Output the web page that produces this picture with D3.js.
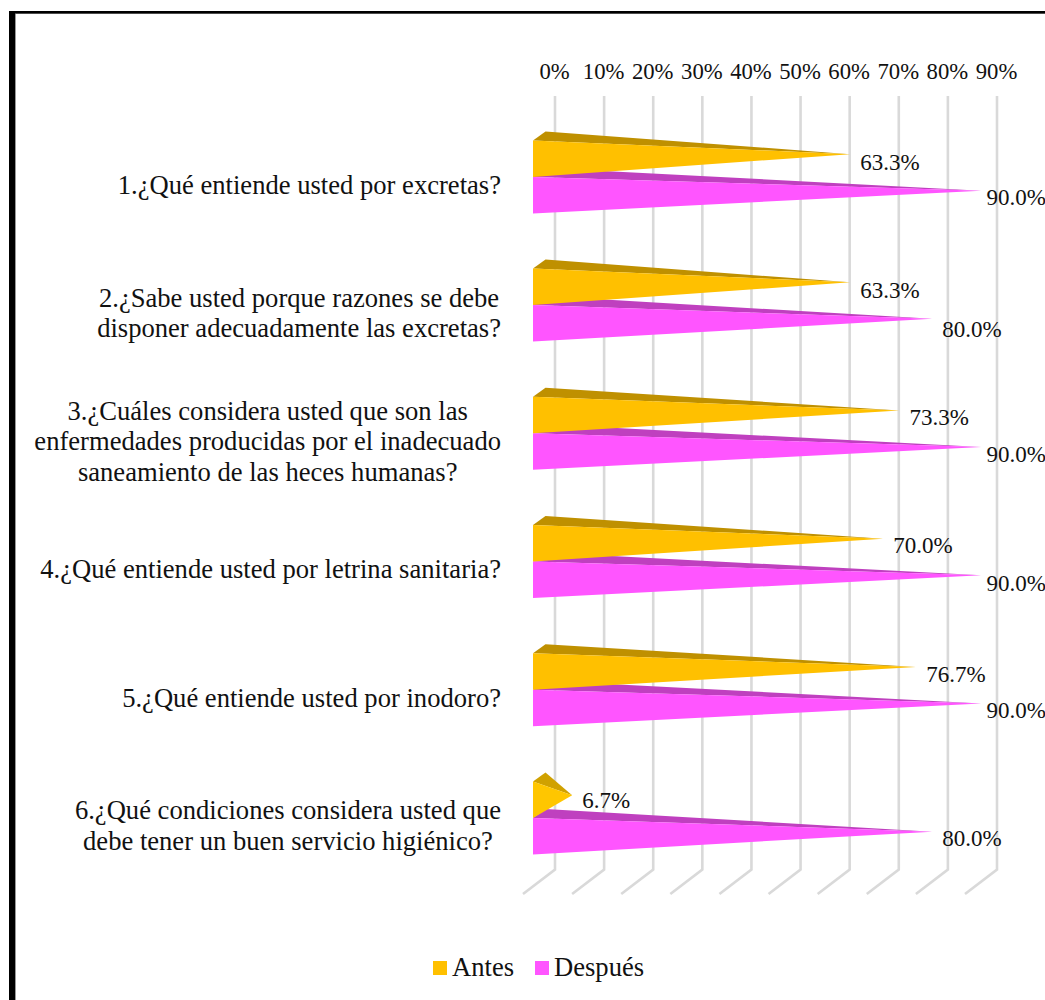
<!DOCTYPE html>
<html lang="es">
<head>
<meta charset="utf-8">
<script src="https://cdn.jsdelivr.net/npm/d3@7"></script>
<style>
  html, body { margin: 0; padding: 0; background: #fff; overflow: hidden; }
  svg { display: block; }
  text { font-family: "Liberation Serif", "Times New Roman", serif; fill: #111; }
</style>
</head>
<body>
<svg id="chart" width="1045" height="1000"></svg>
<script>
// Question labels, one entry per visual line
const questions = [
  ["1.¿Qué entiende usted por excretas?"],
  ["2.¿Sabe usted porque razones se debe", "disponer adecuadamente las excretas?"],
  ["3.¿Cuáles considera usted que son las", "enfermedades producidas por el inadecuado", "saneamiento de las heces humanas?"],
  ["4.¿Qué entiende usted por letrina sanitaria?"],
  ["5.¿Qué entiende usted por inodoro?"],
  ["6.¿Qué condiciones considera usted que", "debe tener un buen servicio higiénico?"]
];
const seriesNames = ["Antes", "Después"];
const antes = [63.3, 63.3, 73.3, 70.0, 76.7, 6.7];
const despues = [90.0, 80.0, 90.0, 90.0, 90.0, 80.0];
const axisTicks = [0, 10, 20, 30, 40, 50, 60, 70, 80, 90];

const frontColors = { "Antes": "#FFC000", "Después": "#FF55FF" };
const topColors = { "Antes": "#BF9000", "Después": "#BF40BF" };

const svg = d3.select("#chart");
const W = 1045, H = 1000;

// Frame: heavy left rule and thinner top rule, each with a soft inner edge
svg.append("rect").attr("x", 15).attr("y", 13).attr("width", 1).attr("height", H - 13).attr("fill", "#999");
svg.append("rect").attr("x", 15).attr("y", 13).attr("width", W - 15).attr("height", 1).attr("fill", "#999");
svg.append("rect").attr("x", 9).attr("y", 11).attr("width", 6).attr("height", H - 11).attr("fill", "#000");
svg.append("rect").attr("x", 9).attr("y", 11).attr("width", W - 9).attr("height", 2.5).attr("fill", "#000");

// Back wall value scale
const x = d3.scaleLinear().domain([0, 90]).range([555, 997]);

// Category bands live on the plane of the bars' front faces
const yBand = d3.scaleBand()
  .domain(d3.range(questions.length))
  .range([112.8, 882])
  .paddingInner(0)
  .paddingOuter(0);
const groupGap = 27.6;
const barH = 36.5;

// 3-D projection of the chart box
const wallTop = 96, wallBottom = 869.5;
const floorDx = -32, floorDy = 24.5;
const barDepthDx = 12.5, barDepthDy = -9;
const frontShift = -22;       // bar front plane relative to the back wall
const apexShift = frontShift + barDepthDx / 2;

// Gridlines on the back wall with their run across the floor
const grid = svg.append("g")
  .attr("fill", "none").attr("stroke", "#D9D9D9").attr("stroke-width", 2.6);
const gridPath = d3.line();
axisTicks.forEach(t => {
  grid.append("path").attr("d", gridPath([
    [x(t), wallTop], [x(t), wallBottom], [x(t) + floorDx, wallBottom + floorDy]
  ]));
});

// Value axis across the top
const axis = d3.axisTop(x).tickValues(axisTicks).tickFormat(d => d + "%").tickSize(0).tickPadding(0);
const axisG = svg.append("g").attr("transform", "translate(-1,79)").call(axis);
axisG.select(".domain").remove();
axisG.selectAll("text").style("font-size", "22.7px").style("font-family", '"Liberation Serif", serif').attr("fill", "#111");

// One pyramid: a front triangle and a top triangle meeting at the apex.
// Very short pyramids catch more light on both faces.
function drawPyramid(g, name, groupIndex, seriesIndex, value) {
  const y0 = yBand(groupIndex) + groupGap + seriesIndex * barH;
  const xf = x(0) + frontShift;
  const apex = [x(value) + apexShift, y0 + barH / 2 + barDepthDy / 2];
  const closed = d3.line().curve(d3.curveLinearClosed);
  const lit = value < 20 ? 0.1 : 0;
  g.append("path")
    .attr("d", closed([[xf, y0], [xf + barDepthDx, y0 + barDepthDy], apex]))
    .attr("fill", d3.interpolateRgb(topColors[name], "#FFD000")(lit * 2.6));
  g.append("path")
    .attr("d", closed([[xf, y0], apex, [xf, y0 + barH]]))
    .attr("fill", d3.interpolateRgb(frontColors[name], "#FFD000")(lit * 4));
}

// Después sits behind Antes, and lower groups are drawn first
const bars = svg.append("g");
d3.range(questions.length).reverse().forEach(i => {
  drawPyramid(bars, "Después", i, 1, despues[i]);
  drawPyramid(bars, "Antes", i, 0, antes[i]);
});

// Value labels start just past each tip, held back near the right edge
const labelMaxX = 986.5;
const labelLift = new Map([["1-1", 3], ["5-0", -2], ["0-0", 1], ["1-0", 1], ["3-1", 1]]);
const labels = svg.append("g").attr("text-anchor", "start").style("font-size", "23px");
const fmt = d3.format(".1f");
d3.range(questions.length).forEach(i => {
  [antes[i], despues[i]].forEach((v, s) => {
    const y0 = yBand(i) + groupGap + s * barH;
    labels.append("text")
      .attr("x", Math.min(x(v) + apexShift + 10.2, labelMaxX))
      .attr("y", y0 + 28.4 + (labelLift.get(i + "-" + s) || 0))
      .text(fmt(v) + "%");
  });
});

// Question labels: centred lines in a block whose right edge is fixed
const cats = svg.append("g").style("font-size", "26.6px").attr("text-anchor", "middle");
const lineH = 30.7;
questions.forEach((lines, i) => {
  const cy = yBand(i) + yBand.bandwidth() / 2 + 8.9;
  const g = cats.append("g");
  const nodes = lines.map((t, k) =>
    g.append("text").attr("y", cy + (k - (lines.length - 1) / 2) * lineH + 8).text(t));
  const maxW = d3.max(nodes, n => n.node().getComputedTextLength());
  nodes.forEach(n => n.attr("x", 501 - maxW / 2));
});

// Legend
const legend = svg.append("g").style("font-size", "26.6px");
const legendX = d3.scaleOrdinal().domain(seriesNames).range([433, 535]);
seriesNames.forEach(name => {
  legend.append("rect")
    .attr("x", legendX(name)).attr("y", 961)
    .attr("width", 14).attr("height", 14)
    .attr("fill", frontColors[name]);
  legend.append("text")
    .attr("x", legendX(name) + 19).attr("y", 976)
    .text(name);
});
</script>
</body>
</html>
